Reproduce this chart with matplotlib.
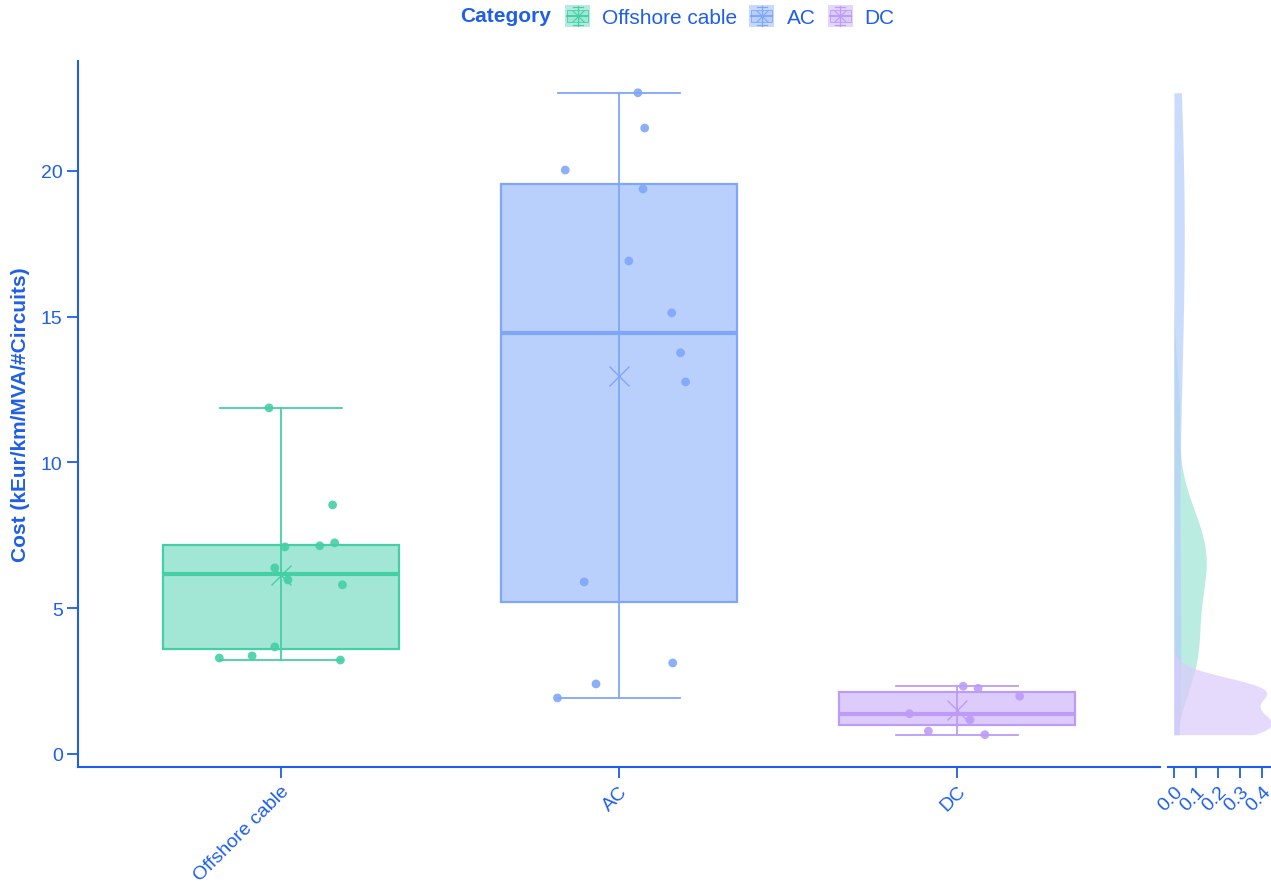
import numpy as np
import matplotlib
matplotlib.use("Agg")
import matplotlib.pyplot as plt
from matplotlib.patches import Rectangle, Patch
from matplotlib.lines import Line2D
from matplotlib.legend_handler import HandlerBase

plt.rcParams['font.family'] = ['Liberation Sans', 'DejaVu Sans']

# ---- data -------------------------------------------------------------
categories = ["Offshore cable", "AC", "DC"]
offshore_cost = [11.87, 8.54, 7.24, 7.14, 7.10, 6.38, 5.97, 5.80, 3.67, 3.29, 3.36, 3.22]
ac_cost = [22.68, 21.47, 20.03, 19.38, 16.91, 15.13, 13.76, 12.76, 5.90, 3.12, 2.40, 1.92]
dc_cost = [2.32, 2.25, 1.98, 1.38, 1.17, 0.78, 0.66]
y_ticks = [0, 5, 10, 15, 20]
density_ticks = [0.0, 0.1, 0.2, 0.3, 0.4]

# horizontal jitter of the individual points (category units)
offshore_jitter = [-0.035, 0.153, 0.159, 0.115, 0.012, -0.018, 0.021, 0.182, -0.018, -0.182, -0.085, 0.176]
ac_jitter = [0.056, 0.076, -0.159, 0.071, 0.029, 0.156, 0.182, 0.197, -0.103, 0.159, -0.068, -0.182]
dc_jitter = [0.018, 0.062, 0.185, -0.141, 0.038, -0.085, 0.082]

# ---- style ------------------------------------------------------------
ink = "#1E5EEB"
line_colors = ["#45CFA5", "#80A6FA", "#BD9CF7"]
fill_colors = ["#A2E7D6", "#B9D0FD", "#DDCCFB"]
density_colors = ["#9FE5D5", "#B6CDFC", "#DCCBFB"]

groups = [offshore_cost, ac_cost, dc_cost]
jitters = [offshore_jitter, ac_jitter, dc_jitter]

W, H = 1271, 887
fig = plt.figure(figsize=(W / 100, H / 100), dpi=100)
ax = fig.add_axes([78 / W, 1 - 768 / H, (1160 - 78) / W, (768 - 62) / H])
axd = fig.add_axes([1168 / W, 1 - 768 / H, (1271 - 1168) / W, (768 - 62) / H], sharey=ax)

positions = np.arange(len(categories))

# ---- box plots --------------------------------------------------------
bp = ax.boxplot(groups, positions=positions, widths=0.7, capwidths=0.36,
                patch_artist=True, showfliers=False, showmeans=True, whis=1.5,
                manage_ticks=False)
for i, box in enumerate(bp['boxes']):
    box.set_facecolor(fill_colors[i])
    box.set_edgecolor(line_colors[i])
    box.set_linewidth(1.6)
    box.set_zorder(2)
for i in range(len(groups)):
    lo_w, hi_w = bp['whiskers'][2 * i], bp['whiskers'][2 * i + 1]
    low = lo_w.get_ydata()[1]
    high = hi_w.get_ydata()[1]
    # single whisker line running through the box
    lo_w.set_ydata([low, high])
    lo_w.set_zorder(3)
    lo_w.set_color(line_colors[i])
    lo_w.set_linewidth(1.3)
    hi_w.set_visible(False)
    for c in bp['caps'][2 * i:2 * i + 2]:
        c.set_color(line_colors[i])
        c.set_linewidth(1.3)
        c.set_zorder(3)
    med = bp['medians'][i]
    med.set_color(line_colors[i])
    med.set_linewidth(3.0)
    med.set_zorder(3)
    mean = bp['means'][i]
    mean.set_marker('x')
    mean.set_markersize(14)
    mean.set_markeredgewidth(1.0)
    mean.set_markeredgecolor(line_colors[i])
    mean.set_zorder(3)

# ---- jittered points --------------------------------------------------
for i, (vals, jit) in enumerate(zip(groups, jitters)):
    ax.scatter(positions[i] + np.array(jit), vals, s=40, color=line_colors[i],
               alpha=0.9, edgecolor='none', zorder=4)

ax.set_xlim(-0.6, 2.6)
ax.set_ylim(-0.45, 23.77)
ax.set_xticks(positions)
ax.set_xticklabels(categories, rotation=45, ha='right', rotation_mode='anchor')
ax.set_yticks(y_ticks)
ax.set_ylabel("Cost (kEur/km/MVA/#Circuits)", fontsize=15, fontweight='bold',
              color=ink, labelpad=8)
for side in ('top', 'right'):
    ax.spines[side].set_visible(False)
for side in ('left', 'bottom'):
    ax.spines[side].set_color(ink)
    ax.spines[side].set_linewidth(1.5)
ax.tick_params(axis='both', colors=ink, labelsize=14, length=8, width=1.3,
               labelcolor=ink, pad=3)

# ---- marginal densities -----------------------------------------------
all_values = np.concatenate([np.asarray(g, dtype=float) for g in groups])
grid = np.linspace(all_values.min(), all_values.max(), 512)


def gaussian_kde(values, grid):
    v = np.asarray(values, dtype=float)
    n = v.size
    sd = v.std(ddof=1)
    q1, q3 = np.percentile(v, [25, 75])
    bw = 0.9 * min(sd, (q3 - q1) / 1.34) * n ** -0.2
    dens = np.exp(-0.5 * ((grid[:, None] - v[None, :]) / bw) ** 2).sum(axis=1)
    return dens / (n * bw * np.sqrt(2 * np.pi))


for i, vals in enumerate(groups):
    d = gaussian_kde(vals, grid)
    axd.fill_betweenx(grid, 0, d, color=density_colors[i], alpha=0.7, linewidth=0)

axd.set_xlim(-0.027, 0.441)
axd.set_xticks(density_ticks)
axd.set_xticklabels([f"{t:.1f}" for t in density_ticks], rotation=45, ha='right',
                    rotation_mode='anchor')
for side in ('top', 'right', 'left'):
    axd.spines[side].set_visible(False)
axd.spines['bottom'].set_color(ink)
axd.spines['bottom'].set_linewidth(1.5)
axd.tick_params(axis='x', colors=ink, labelsize=14, length=8, width=1.3, pad=3)
axd.tick_params(axis='y', left=False, labelleft=False)


# ---- legend -----------------------------------------------------------
class BoxKeyHandler(HandlerBase):
    def create_artists(self, legend, orig_handle, xdescent, ydescent, width, height,
                       fontsize, trans):
        x0, y0 = -xdescent, -ydescent
        fc = orig_handle.get_facecolor()
        ec = orig_handle.get_edgecolor()
        cx, cy = x0 + width / 2, y0 + height / 2
        arts = [Rectangle((x0, y0), width, height, facecolor=fc, edgecolor='none',
                          alpha=0.8, transform=trans)]
        arts.append(Rectangle((x0 + width * 0.08, y0 + height * 0.22), width * 0.84,
                              height * 0.56, facecolor=fc, edgecolor=ec,
                              linewidth=0.6, transform=trans))
        arts.append(Line2D([cx, cx], [y0 + height * 0.05, y0 + height * 0.95], color=ec,
                           lw=0.9, transform=trans))
        arts.append(Line2D([x0 + width * 0.08, x0 + width * 0.92], [cy, cy], color=ec,
                           lw=1.4, transform=trans))
        for yy in (y0 + height * 0.1, y0 + height * 0.9):
            arts.append(Line2D([cx - width * 0.2, cx + width * 0.2], [yy, yy], color=ec,
                               lw=0.9, transform=trans))
        arts.append(Line2D([cx], [cy], marker='x', markersize=8, mew=0.8, color=ec,
                           transform=trans))
        return arts


handles = [Patch(facecolor=fill_colors[i], edgecolor=line_colors[i])
           for i in range(len(categories))]
fig.text(551 / W, 1 - 17 / H, "Category", ha='right', va='center', fontsize=15,
         fontweight='bold', color=ink)
leg = fig.legend(handles, categories, loc='center left', bbox_to_anchor=(561 / W, 1 - 17 / H),
                 ncol=3, frameon=False, fontsize=15, handlelength=1.2, handleheight=1.25,
                 handletextpad=0.58, columnspacing=0.58, borderpad=0.2, borderaxespad=0.0,
                 handler_map={Patch: BoxKeyHandler()})
for t in leg.get_texts():
    t.set_color(ink)

fig.savefig("out.png", dpi=100)
